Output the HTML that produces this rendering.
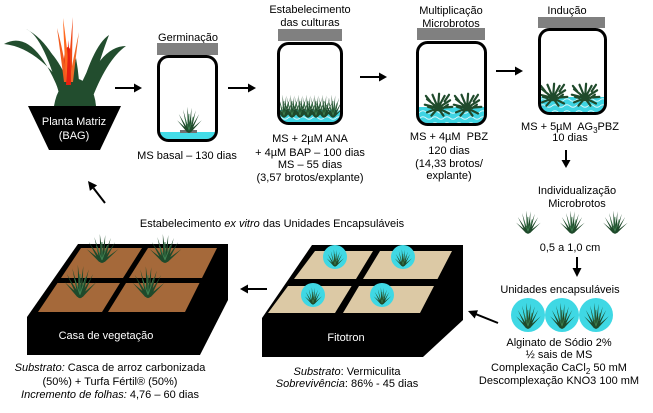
<!DOCTYPE html>
<html><head><meta charset="utf-8">
<style>
html,body{margin:0;padding:0;background:#fff;}
svg{display:block;}
text{font-family:"Liberation Sans",Arial,sans-serif;font-size:11px;fill:#000;}
.w{fill:#fff;}
.i{font-style:italic;}
</style></head><body>
<svg width="653" height="413" viewBox="0 0 653 413" xmlns="http://www.w3.org/2000/svg">
<defs>
<pattern id="gel" width="12" height="6" patternUnits="userSpaceOnUse">
<rect width="12" height="6" fill="#3fd4e2"/>
<path d="M0,4 Q3,1.5 6,4 T12,4" stroke="#d8f8fb" stroke-width="1" fill="none"/>
</pattern>
<g id="fan">
<ellipse cx="0" cy="-4" rx="3.5" ry="5" fill="#1f4a2b"/>
<path fill="#1f4a2b" d="M-2.5,0 L-14,-13 L-1,-2 Z M-2.5,0 L-12,-20 L-0.5,-2 Z M-2,0 L-7,-25 L0,-2 Z M-1.5,0 L-2,-28 L1.5,-2 Z M-1,0 L3,-27 L2,-1 Z M0,-1 L8,-24 L2.5,0 Z M0,-1 L12,-20 L2.5,0 Z M0,-1 L15,-13 L2.5,0 Z"/>
<path d="M0,-2 L-5,-16 M0,-2 L5,-17 M0,-2 L0,-20" stroke="#3d7f50" stroke-width="0.8" fill="none"/>
</g>
<g id="star">
<path d="M0,0 L-12,-3 M0,0 L-10,-8 M0,0 L-5,-12 M0,0 L1,-13 M0,0 L6,-11 M0,0 L11,-7 M0,0 L13,-1 M0,0 L10,5 M0,0 L-10,4 M0,0 L-6,7 M0,0 L5,7 M-7,-6 L-11,-11 M6,-6 L10,-12 M-5,0 L-9,-1 M5,0 L9,-3" stroke="#1f4a2b" stroke-width="2" stroke-linecap="round" fill="none"/>
<circle cx="0" cy="0" r="3" fill="#1f4a2b"/>
</g>
<clipPath id="c1"><rect x="160" y="58" width="55" height="81" rx="8"/></clipPath>
<clipPath id="c2"><rect x="280" y="45" width="60" height="77" rx="8"/></clipPath>
<clipPath id="c3"><rect x="419" y="44" width="65" height="79" rx="8"/></clipPath>
<clipPath id="c4"><rect x="541" y="31" width="63" height="81" rx="8"/></clipPath>
</defs>

<!-- Planta Matriz -->
<g fill="#224d2e">
<path d="M64,104 Q36,26 4,44 Q42,48 76,104 Z"/>
<path d="M62,104 Q44,36 26,29 Q56,44 73,104 Z"/>
<path d="M66,104 Q50,58 42,45 Q62,58 76,104 Z"/>
<path d="M79,104 Q98,46 126,46 Q106,60 90,104 Z"/>
<path d="M77,104 Q92,46 109,35 Q100,58 87,104 Z"/>
<path d="M75,104 Q84,68 101,55 Q90,80 83,104 Z"/>
<path d="M69,104 Q71,78 76,58 Q80,80 80,104 Z"/>
<path d="M54,106 Q58,82 75,78 Q94,82 96,106 Z"/>
</g>
<ellipse cx="68" cy="62" rx="4" ry="15" fill="#e52a10"/>
<path d="M64,82 Q60,50 57,28 Q63,50 68,82 Z" fill="#f05a1e"/>
<path d="M66,80 Q64,45 63,18 Q67,45 70,80 Z" fill="#ff6a20"/>
<path d="M68,80 Q70,45 73,17 Q72,45 72,80 Z" fill="#f04818"/>
<path d="M69,82 Q74,55 79,32 Q76,55 73,82 Z" fill="#f06a28"/>
<path d="M66,85 Q68,60 68,40 Q71,60 71,85 Z" fill="#e82010"/>
<polygon points="28,106 121,106 100,150 49,150" fill="#000"/>
<text x="74" y="125" text-anchor="middle" class="w">Planta Matriz</text>
<text x="74" y="139" text-anchor="middle" class="w">(BAG)</text>

<!-- Jar 1 -->
<text x="188" y="41" text-anchor="middle">Germinação</text>
<rect x="157" y="43" width="61" height="12" fill="#808080"/>
<rect x="158.5" y="56.5" width="58" height="84" rx="10" fill="#fff"/>
<g clip-path="url(#c1)"><rect x="158" y="132" width="60" height="10" fill="#44dde8"/></g>
<rect x="180" y="130" width="17" height="3" fill="#707070"/>
<use href="#fan" transform="translate(189,132) scale(0.85,0.9)"/>
<rect x="158.5" y="56.5" width="58" height="84" rx="10" fill="none" stroke="#000" stroke-width="3"/>
<text x="187" y="159" text-anchor="middle">MS basal – 130 dias</text>

<!-- Jar 2 -->
<text x="310" y="13" text-anchor="middle">Estabelecimento</text>
<text x="310" y="26" text-anchor="middle">das culturas</text>
<rect x="278" y="29" width="64" height="12" fill="#808080"/>
<rect x="278.5" y="43.5" width="63" height="80" rx="10" fill="#fff"/>
<g clip-path="url(#c2)">
<rect x="278" y="110" width="64" height="14" fill="url(#gel)"/>
<use href="#fan" transform="translate(284,117) scale(0.75,0.8)"/>
<use href="#fan" transform="translate(292,117) scale(0.75,0.8)"/>
<use href="#fan" transform="translate(300,117) scale(0.75,0.8)"/>
<use href="#fan" transform="translate(308,117) scale(0.75,0.8)"/>
<use href="#fan" transform="translate(316,117) scale(0.75,0.8)"/>
<use href="#fan" transform="translate(324,117) scale(0.75,0.8)"/>
<use href="#fan" transform="translate(333,117) scale(0.75,0.8)"/>
</g>
<rect x="278.5" y="43.5" width="63" height="80" rx="10" fill="none" stroke="#000" stroke-width="3"/>
<text x="310" y="142" text-anchor="middle">MS + 2µM ANA</text>
<text x="310" y="156" text-anchor="middle">+ 4µM BAP – 100 dias</text>
<text x="310" y="168" text-anchor="middle">MS – 55 dias</text>
<text x="310" y="181" text-anchor="middle">(3,57 brotos/explante)</text>

<!-- Jar 3 -->
<text x="451" y="14" text-anchor="middle">Multiplicação</text>
<text x="451" y="27" text-anchor="middle">Microbrotos</text>
<rect x="417" y="28" width="68" height="12" fill="#808080"/>
<rect x="417.5" y="42.5" width="68" height="82" rx="10" fill="#fff"/>
<g clip-path="url(#c3)">
<rect x="416" y="107" width="70" height="18" fill="url(#gel)"/>
<use href="#star" transform="translate(438,108) scale(1.1)"/>
<use href="#star" transform="translate(467,108) scale(1.1)"/>
</g>
<rect x="417.5" y="42.5" width="68" height="82" rx="10" fill="none" stroke="#000" stroke-width="3"/>
<text x="449" y="140" text-anchor="middle" xml:space="preserve">MS + 4µM  PBZ</text>
<text x="449" y="154" text-anchor="middle">120 dias</text>
<text x="449" y="167" text-anchor="middle">(14,33 brotos/</text>
<text x="449" y="179" text-anchor="middle">explante)</text>

<!-- Jar 4 -->
<text x="567" y="14" text-anchor="middle">Indução</text>
<rect x="538" y="17" width="67" height="11" fill="#808080"/>
<rect x="539.5" y="29.5" width="66" height="84" rx="10" fill="#fff"/>
<g clip-path="url(#c4)">
<rect x="538" y="97" width="68" height="16" fill="url(#gel)"/>
<use href="#star" transform="translate(553,98) scale(1.1)"/>
<use href="#star" transform="translate(585,98) scale(1.1)"/>
</g>
<rect x="539.5" y="29.5" width="66" height="84" rx="10" fill="none" stroke="#000" stroke-width="3"/>
<text x="570" y="130" text-anchor="middle" xml:space="preserve">MS + 5µM  AG<tspan dy="3" font-size="8">3</tspan><tspan dy="-3">PBZ</tspan></text>
<text x="570" y="141" text-anchor="middle">10 dias</text>

<!-- Individualização -->
<text x="577" y="194" text-anchor="middle">Individualização</text>
<text x="577" y="207" text-anchor="middle">Microbrotos</text>
<use href="#fan" transform="translate(528,233) scale(0.85,0.8)"/>
<use href="#fan" transform="translate(572,233) scale(0.85,0.8)"/>
<use href="#fan" transform="translate(615,233) scale(0.85,0.8)"/>
<text x="570" y="251" text-anchor="middle">0,5 a 1,0 cm</text>

<!-- Unidades encapsuláveis -->
<text x="560" y="293" text-anchor="middle">Unidades encapsuláveis</text>
<circle cx="528" cy="315" r="17" fill="#3fd8e4"/>
<circle cx="562" cy="315" r="17" fill="#3fd8e4"/>
<circle cx="596" cy="315" r="17" fill="#3fd8e4"/>
<use href="#fan" transform="translate(528,328) scale(0.85,0.9)"/>
<use href="#fan" transform="translate(562,328) scale(0.85,0.9)"/>
<use href="#fan" transform="translate(596,328) scale(0.85,0.9)"/>
<text x="559" y="346" text-anchor="middle">Alginato de Sódio 2%</text>
<text x="559" y="358" text-anchor="middle">½ sais de MS</text>
<text x="559" y="371" text-anchor="middle">Complexação CaCl<tspan dy="3" font-size="8">2</tspan><tspan dy="-3"> 50 mM</tspan></text>
<text x="559" y="384" text-anchor="middle">Descomplexação KNO3 100 mM</text>

<!-- Title -->
<text x="272" y="227" text-anchor="middle">Estabelecimento <tspan class="i">ex vitro</tspan> das Unidades Encapsuláveis</text>

<!-- Casa de vegetação box -->
<polygon points="78,244 228,244 228,300 200,355 27,355 27,317" fill="#000"/>
<g fill="#a5693a">
<polygon points="81,248 142,248 123,278 61,278"/>
<polygon points="148,248 217,248 202,278 129,278"/>
<polygon points="57.5,283 120,283 102,312 38,312"/>
<polygon points="126,283 199.5,283 185,312 108,312"/>
</g>
<use href="#fan" transform="translate(102,262) scale(1.1,1)"/>
<use href="#fan" transform="translate(165,262) scale(1.1,1)"/>
<use href="#fan" transform="translate(80,297) scale(1.1,1.15)"/>
<use href="#fan" transform="translate(148,297) scale(1.1,1.1)"/>
<text x="106" y="339" text-anchor="middle" class="w">Casa de vegetação</text>
<text x="110" y="371" text-anchor="middle"><tspan class="i">Substrato:</tspan> Casca de arroz carbonizada</text>
<text x="110" y="385" text-anchor="middle">(50%) + Turfa Fértil® (50%)</text>
<text x="110" y="398" text-anchor="middle"><tspan class="i">Incremento de folhas:</tspan> 4,76 – 60 dias</text>

<!-- Fitotron box -->
<polygon points="312,245 463,245 463,320 423,357 262,357 262,318" fill="#000"/>
<g fill="#dcc9a5">
<polygon points="315,251 373,251 356,279 294,279"/>
<polygon points="380,251 452,251 437.5,279 363,279"/>
<polygon points="288,286 351.6,286 335,313 268,313"/>
<polygon points="359,286 434,286 420,313 343,313"/>
</g>
<circle cx="335" cy="257" r="12" fill="#3fd8e4"/>
<circle cx="403" cy="257" r="12" fill="#3fd8e4"/>
<circle cx="313" cy="295" r="12" fill="#3fd8e4"/>
<circle cx="382" cy="295" r="12" fill="#3fd8e4"/>
<use href="#fan" transform="translate(335,266) scale(0.6,0.6)"/>
<use href="#fan" transform="translate(403,266) scale(0.6,0.6)"/>
<use href="#fan" transform="translate(313,304) scale(0.6,0.6)"/>
<use href="#fan" transform="translate(382,304) scale(0.6,0.6)"/>
<text x="346" y="341" text-anchor="middle" class="w">Fitotron</text>
<text x="347" y="375" text-anchor="middle"><tspan class="i">Substrato</tspan>: Vermiculita</text>
<text x="347" y="387" text-anchor="middle"><tspan class="i">Sobrevivência</tspan>: 86% - 45 dias</text>

<!-- Arrows -->
<g stroke="#000" stroke-width="2" fill="none">
<line x1="115" y1="88" x2="135" y2="88"/>
<line x1="228" y1="88" x2="249" y2="88"/>
<line x1="360" y1="77" x2="380" y2="77"/>
<line x1="496" y1="71" x2="516" y2="71"/>
<line x1="566" y1="150" x2="566" y2="161"/>
<line x1="577" y1="257" x2="577" y2="269"/>
<line x1="498" y1="323" x2="476" y2="314.2"/>
<line x1="267" y1="289" x2="247" y2="289"/>
<line x1="105" y1="203" x2="93.5" y2="188.1"/>
</g>
<g fill="#000">
<polygon points="134,83.5 142,88 134,92.5"/>
<polygon points="248,83.5 256,88 248,92.5"/>
<polygon points="379,72.5 387,77 379,81.5"/>
<polygon points="515,66.5 523,71 515,75.5"/>
<polygon points="561.5,160 566,168 570.5,160"/>
<polygon points="572.5,268 577,277 581.5,268"/>
<polygon points="478,310.2 474.7,318.5 468,311"/>
<polygon points="248,284.5 240,289 248,293.5"/>
<polygon points="97.1,185.4 89.9,190.9 88,181"/>
</g>
</svg>
</body></html>
